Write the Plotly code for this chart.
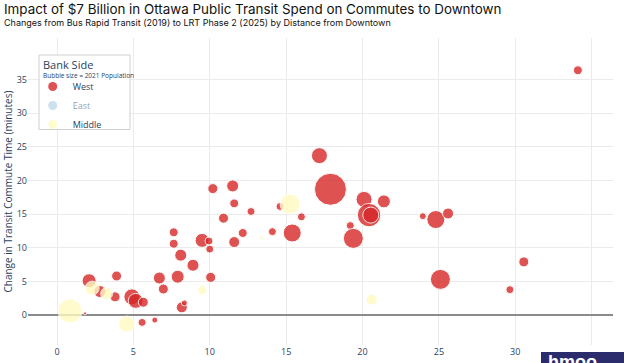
import plotly.graph_objects as go

# ---------------- data ----------------
west_x = [1.83, 2.1, 2.8, 3.8, 3.9, 4.9, 5.15, 5.65, 5.57, 6.4, 6.7, 6.96, 7.9, 8.1, 8.9,
          10.0, 10.06, 8.17, 8.34, 7.64, 7.64, 9.5, 9.95, 10.2, 10.9, 11.5, 11.6, 11.6,
          12.16, 12.7, 14.1, 14.6, 15.4, 16.0, 17.18, 17.9, 19.2, 19.4, 20.1, 20.43,
          20.54, 21.4, 23.95, 24.8, 25.6, 25.1, 29.65, 30.56, 34.1]
west_y = [0.25, 5.1, 3.5, 2.7, 5.8, 2.7, 2.1, 1.9, -1.1, -0.75, 5.5, 3.86, 5.7, 8.9, 7.4,
          9.8, 5.6, 1.14, 1.8, 12.3, 10.6, 11.1, 11.0, 18.8, 14.4, 19.2, 16.6, 10.85,
          12.2, 15.4, 12.4, 16.15, 12.2, 14.6, 23.7, 18.7, 13.3, 11.4, 17.2, 14.86,
          14.86, 16.9, 14.7, 14.2, 15.1, 5.3, 3.77, 7.9, 36.4]
west_pop = [230, 4900, 3600, 2500, 2500, 6400, 5600, 2500, 1600, 900, 3600, 2500, 4200,
            3600, 3600, 1600, 2500, 3000, 900, 2000, 2000, 4900, 1600, 2500, 2500, 3600,
            2000, 3000, 2000, 1600, 1600, 1600, 8100, 1600, 6400, 25600, 1600, 10000,
            6400, 13700, 6400, 4200, 1200, 8100, 3000, 10000, 1600, 2500, 2000]

east_x = []
east_y = []
east_pop = []

middle_x = [0.85, 2.3, 3.25, 4.56, 9.5, 13.4, 15.26, 20.6]
middle_y = [0.6, 4.0, 3.2, -1.35, 3.7, 11.5, 16.5, 2.3]
middle_pop = [14400, 4900, 3600, 6400, 2000, 400, 10000, 3000]

x_tickvals = [0, 5, 10, 15, 20, 25, 30, 35]
x_ticktext = ["0", "5", "10", "15", "20", "25", "30", ""]
y_tickvals = [0, 5, 10, 15, 20, 25, 30, 35]

# ---------------- figure ----------------
NAVY = "#2a3f5f"
SIZEREF = 50

series = [
    ("West", west_x, west_y, west_pop, "#d62728", True),
    ("East", east_x, east_y, east_pop, "#7fb3d5", "legendonly"),
    ("Middle", middle_x, middle_y, middle_pop, "#fffbc0", True),
]

fig = go.Figure()
for name, xs, ys, pops, color, vis in series:
    fig.add_trace(go.Scatter(
        x=xs, y=ys, mode="markers", name=name, legendgroup=name,
        showlegend=False, visible=vis,
        marker=dict(size=pops, sizemode="area", sizeref=SIZEREF, color=color,
                    opacity=0.8, line=dict(width=1, color="white")),
    ))
for name, xs, ys, pops, color, vis in series:
    fig.add_trace(go.Scatter(
        x=[None], y=[None], mode="markers", name=name, legendgroup=name,
        showlegend=True, visible=vis,
        marker=dict(size=9, color=color, opacity=0.8),
    ))

W, H = 624, 363
L, R, T, B = 28, 11, 38, 18
pw = W - L - R
ph = H - T - B

def px_x(q):
    return (q - L) / pw

def px_y(p):
    return (H - B - p) / ph

fig.update_layout(
    width=W, height=H,
    margin=dict(l=L, r=R, t=T, b=B, autoexpand=False),
    paper_bgcolor="white", plot_bgcolor="white",
    font=dict(family="Open Sans, sans-serif", size=9, color=NAVY),
    xaxis=dict(range=[-1.9, 36.4], tickvals=x_tickvals, ticktext=x_ticktext,
               showgrid=True, gridcolor="#ebebeb", gridwidth=1, zeroline=False,
               showline=False, ticks="", automargin=False,
               tickfont=dict(size=9, color=NAVY)),
    yaxis=dict(range=[-4.46, 41.2], tickvals=y_tickvals,
               showgrid=True, gridcolor="#ebebeb", gridwidth=1,
               zeroline=True, zerolinecolor="#8a8a8a", zerolinewidth=2,
               showline=False, ticks="", automargin=False,
               tickfont=dict(size=9, color=NAVY)),
    legend=dict(x=px_x(32.7), y=px_y(72), xanchor="left", yanchor="top",
                bgcolor="rgba(255,255,255,0)", borderwidth=0,
                tracegroupgap=0,
                font=dict(size=9, color=NAVY)),
    showlegend=True,
)

# legend frame and heading
fig.add_shape(type="rect", xref="paper", yref="paper", layer="above",
              x0=px_x(39), x1=px_x(130), y0=px_y(129.5), y1=px_y(55),
              fillcolor="white", line=dict(color="#d0d0d0", width=1))
fig.add_annotation(xref="paper", yref="paper", x=px_x(41), y=px_y(64.5),
                   xanchor="left", yanchor="middle", showarrow=False,
                   text="Bank Side", font=dict(size=11, color=NAVY))
fig.add_annotation(xref="paper", yref="paper", x=px_x(41), y=px_y(75.5),
                   xanchor="left", yanchor="middle", showarrow=False,
                   text="Bubble size = 2021 Population", font=dict(size=6.5, color=NAVY))

fig.add_annotation(xref="paper", yref="paper", x=px_x(2), y=px_y(9),
                   xanchor="left", yanchor="middle", showarrow=False,
                   text="Impact of $7 Billion in Ottawa Public Transit Spend on Commutes to Downtown",
                   font=dict(family="Inter, sans-serif", size=13.4, color="#111111"))
fig.add_annotation(xref="paper", yref="paper", x=px_x(2), y=px_y(23),
                   xanchor="left", yanchor="middle", showarrow=False,
                   text="Changes from Bus Rapid Transit (2019) to LRT Phase 2 (2025) by Distance from Downtown",
                   font=dict(family="Inter, sans-serif", size=9.0, color="#111111"))
fig.add_annotation(xref="paper", yref="paper", x=px_x(7), y=0.5,
                   xanchor="center", yanchor="middle", showarrow=False, textangle=-90,
                   text="Change in Transit Commute Time (minutes)",
                   font=dict(size=10, color=NAVY))

# navy logo block in the bottom-right corner
fig.add_shape(type="rect", xref="paper", yref="paper", layer="above",
              x0=px_x(541), x1=px_x(630), y0=px_y(370), y1=px_y(352),
              fillcolor="#2b2c6c", line=dict(width=0))
fig.add_annotation(xref="paper", yref="paper", x=px_x(546), y=px_y(350),
                   xanchor="left", yanchor="top", showarrow=False,
                   text="<b>hmoo</b>", font=dict(family="Arial", size=18, color="white"))

fig.write_html("out.html", config={"displayModeBar": False},
               post_script="document.body.style.margin='0px';")
